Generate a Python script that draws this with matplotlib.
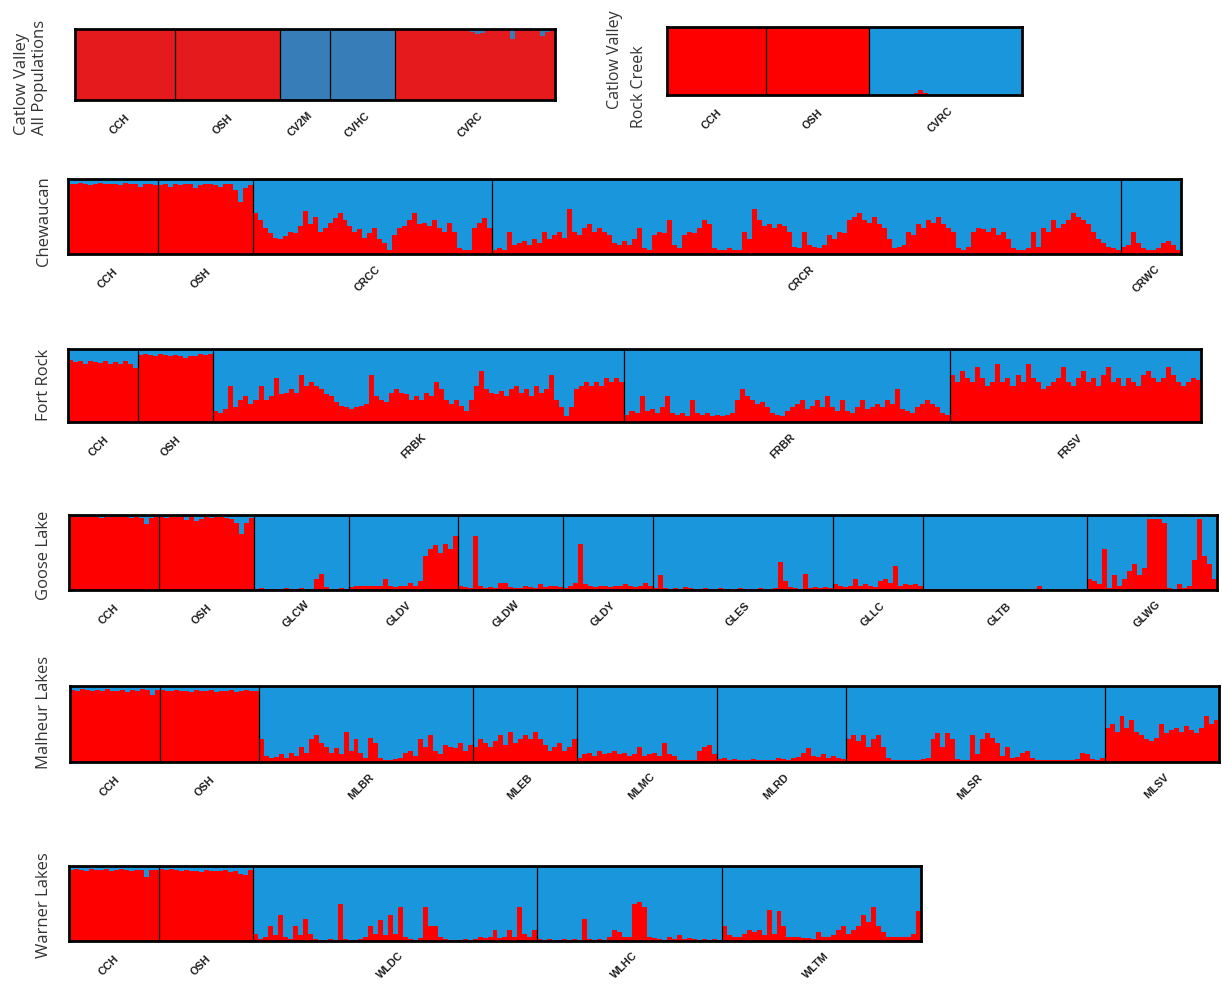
import numpy as np
import matplotlib.pyplot as plt

# --------------------------------------------------
# Data: red-cluster membership (q) per individual, grouped by population
# --------------------------------------------------
cv_all_pops = ["CCH", "OSH", "CV2M", "CVHC", "CVRC"]
cv_all_q = [
    [1.0, 1.0, 1.0, 1.0, 1.0, 1.0, 1.0, 1.0, 1.0, 1.0, 1.0, 1.0, 1.0, 1.0, 1.0, 1.0, 1.0, 1.0, 1.0, 1.0],
    [1.0, 1.0, 1.0, 1.0, 1.0, 1.0, 1.0, 1.0, 1.0, 1.0, 1.0, 1.0, 1.0, 1.0, 1.0, 1.0, 1.0, 1.0, 1.0, 1.0, 1.0],
    [0.0, 0.0, 0.0, 0.0, 0.0, 0.0, 0.0, 0.0, 0.0, 0.0],
    [0.0, 0.0, 0.0, 0.0, 0.0, 0.0, 0.0, 0.0, 0.0, 0.0, 0.0, 0.0, 0.0],
    [1, 1, 1, 1, 1, 1, 1, 0.97, 1, 1, 1, 1, 1, 1, 1, 0.96, 0.93, 0.95, 1, 1, 1, 1, 1, 0.86,
     1, 1, 1, 1, 1, 0.9, 0.96, 1],
]

cv_rc_pops = ["CCH", "OSH", "CVRC"]
cv_rc_q = [
    [1.0, 1.0, 1.0, 1.0, 1.0, 1.0, 1.0, 1.0, 1.0, 1.0, 1.0, 1.0, 1.0, 1.0, 1.0, 1.0, 1.0, 1.0, 1.0, 1.0],
    [1.0, 1.0, 1.0, 1.0, 1.0, 1.0, 1.0, 1.0, 1.0, 1.0, 1.0, 1.0, 1.0, 1.0, 1.0, 1.0, 1.0, 1.0, 1.0, 1.0, 1.0],
    [0, 0, 0, 0, 0, 0, 0, 0, 0, 0.03, 0.08, 0.03, 0, 0, 0, 0, 0, 0, 0, 0, 0, 0, 0, 0, 0, 0, 0, 0, 0, 0, 0],
]

chew_pops = ["CCH", "OSH", "CRCC", "CRCR", "CRWC"]
chew_q = [
    [0.94, 0.93, 0.95, 0.94, 0.92, 0.93, 0.95, 0.94, 0.93, 0.94, 0.92, 0.95, 0.93, 0.94, 0.9, 0.93, 0.94, 0.92],
    [0.92, 0.94, 0.9, 0.93, 0.92, 0.94, 0.93, 0.88, 0.92, 0.93, 0.94, 0.92, 0.9, 0.93, 0.94, 0.85, 0.7, 0.88, 0.92],
    [0.55, 0.45, 0.35, 0.28, 0.22, 0.2, 0.24, 0.3, 0.28, 0.38, 0.58, 0.4, 0.5, 0.3, 0.35, 0.42,
     0.48, 0.55, 0.45, 0.38, 0.3, 0.33, 0.22, 0.28, 0.35, 0.2, 0.15, 0.05, 0.25, 0.35, 0.38, 0.45,
     0.55, 0.4, 0.42, 0.38, 0.45, 0.35, 0.3, 0.42, 0.3, 0.08, 0.05, 0.05, 0.35, 0.42, 0.48, 0.35],
    [0.05, 0.08, 0.05, 0.3, 0.12, 0.15, 0.18, 0.12, 0.2, 0.15, 0.3, 0.2, 0.25, 0.3, 0.22, 0.6,
     0.3, 0.25, 0.35, 0.4, 0.3, 0.35, 0.3, 0.25, 0.15, 0.12, 0.18, 0.12, 0.2, 0.35, 0.08, 0.06,
     0.25, 0.3, 0.28, 0.45, 0.12, 0.08, 0.25, 0.3, 0.28, 0.35, 0.45, 0.4, 0.08, 0.06, 0.05, 0.08,
     0.06, 0.05, 0.3, 0.2, 0.6, 0.45, 0.38, 0.4, 0.35, 0.4, 0.38, 0.3, 0.1, 0.08, 0.3, 0.12,
     0.1, 0.08, 0.12, 0.25, 0.2, 0.3, 0.28, 0.45, 0.5, 0.55, 0.45, 0.42, 0.5, 0.4, 0.35, 0.2,
     0.08, 0.1, 0.12, 0.3, 0.25, 0.4, 0.35, 0.45, 0.42, 0.5, 0.4, 0.35, 0.3, 0.08, 0.05, 0.1,
     0.3, 0.35, 0.33, 0.3, 0.35, 0.25, 0.3, 0.2, 0.08, 0.06, 0.05, 0.08, 0.3, 0.1, 0.35, 0.3,
     0.45, 0.35, 0.4, 0.45, 0.55, 0.5, 0.45, 0.4, 0.3, 0.2, 0.15, 0.1, 0.08, 0.05],
    [0.1, 0.12, 0.3, 0.15, 0.08, 0.06, 0.05, 0.08, 0.15, 0.18, 0.12, 0.06],
]

fr_pops = ["CCH", "OSH", "FRBK", "FRBR", "FRSV"]
fr_q = [
    [0.85, 0.82, 0.84, 0.8, 0.83, 0.82, 0.81, 0.84, 0.8, 0.82, 0.79, 0.83, 0.8, 0.74],
    [0.92, 0.93, 0.92, 0.91, 0.93, 0.92, 0.9, 0.92, 0.91, 0.88, 0.9, 0.91, 0.93, 0.92, 0.93],
    [0.15, 0.12, 0.18, 0.5, 0.2, 0.3, 0.35, 0.25, 0.3, 0.5, 0.3, 0.35, 0.6, 0.38, 0.4, 0.45,
     0.4, 0.65, 0.5, 0.55, 0.5, 0.45, 0.38, 0.35, 0.28, 0.22, 0.2, 0.18, 0.2, 0.22, 0.25, 0.65,
     0.35, 0.3, 0.28, 0.4, 0.45, 0.4, 0.38, 0.3, 0.35, 0.3, 0.4, 0.35, 0.55, 0.45, 0.3, 0.25,
     0.3, 0.22, 0.15, 0.3, 0.5, 0.7, 0.45, 0.4, 0.38, 0.42, 0.35, 0.45, 0.5, 0.4, 0.45, 0.35,
     0.5, 0.4, 0.45, 0.65, 0.3, 0.2, 0.08, 0.2, 0.45, 0.5, 0.55, 0.5, 0.55, 0.5, 0.6, 0.55,
     0.6, 0.55],
    [0.1, 0.15, 0.12, 0.35, 0.15, 0.18, 0.12, 0.2, 0.35, 0.12, 0.1, 0.12, 0.08, 0.3, 0.12, 0.1,
     0.12, 0.08, 0.1, 0.08, 0.1, 0.12, 0.3, 0.45, 0.35, 0.3, 0.25, 0.28, 0.2, 0.12, 0.1, 0.08,
     0.15, 0.2, 0.25, 0.3, 0.18, 0.22, 0.3, 0.2, 0.35, 0.2, 0.15, 0.3, 0.15, 0.12, 0.2, 0.3,
     0.18, 0.2, 0.25, 0.2, 0.3, 0.25, 0.45, 0.18, 0.15, 0.12, 0.2, 0.25, 0.3, 0.25, 0.2, 0.12,
     0.1],
    [0.65, 0.55, 0.7, 0.6, 0.55, 0.75, 0.6, 0.5, 0.55, 0.8, 0.55, 0.6, 0.5, 0.65, 0.55, 0.8,
     0.6, 0.55, 0.45, 0.5, 0.55, 0.6, 0.75, 0.55, 0.5, 0.6, 0.7, 0.55, 0.6, 0.5, 0.65, 0.75,
     0.55, 0.6, 0.5, 0.6, 0.55, 0.5, 0.65, 0.7, 0.6, 0.55, 0.6, 0.75, 0.65, 0.55, 0.5, 0.55,
     0.6, 0.58],
]

gl_pops = ["CCH", "OSH", "GLCW", "GLDV", "GLDW", "GLDY", "GLES", "GLLC", "GLTB", "GLWG"]
gl_q = [
    [0.97, 0.98, 0.97, 0.97, 0.98, 0.97, 0.96, 0.97, 0.97, 0.98, 0.97, 0.97, 0.96, 0.97, 0.96, 0.88, 0.96, 0.97],
    [0.97, 0.96, 0.97, 0.98, 0.97, 0.93, 0.97, 0.92, 0.95, 0.97, 0.96, 0.97, 0.97, 0.96, 0.95, 0.9, 0.75, 0.9, 0.96],
    [0.02, 0.03, 0.02, 0.02, 0.01, 0.02, 0.03, 0.02, 0.02, 0.03, 0.02, 0.02, 0.15, 0.22, 0.04, 0.02, 0.02, 0.03, 0.02],
    [0.04, 0.05, 0.05, 0.06, 0.05, 0.05, 0.06, 0.15, 0.05, 0.04, 0.05, 0.06, 0.1, 0.06, 0.12, 0.45,
     0.55, 0.6, 0.5, 0.62, 0.55, 0.72],
    [0.05, 0.04, 0.03, 0.72, 0.05, 0.03, 0.04, 0.03, 0.1, 0.09, 0.04, 0.03, 0.03, 0.05, 0.04, 0.03,
     0.08, 0.04, 0.06, 0.05, 0.04],
    [0.03, 0.05, 0.1, 0.62, 0.08, 0.05, 0.04, 0.06, 0.05, 0.04, 0.06, 0.05, 0.08, 0.05, 0.04, 0.06, 0.1, 0.05],
    [0.03, 0.2, 0.03, 0.02, 0.03, 0.02, 0.04, 0.03, 0.02, 0.02, 0.03, 0.02, 0.02, 0.03, 0.02, 0.02,
     0.02, 0.03, 0.02, 0.02, 0.02, 0.03, 0.02, 0.02, 0.03, 0.38, 0.12, 0.04, 0.03, 0.02, 0.22, 0.03,
     0.04, 0.03, 0.04, 0.03],
    [0.08, 0.05, 0.04, 0.06, 0.15, 0.05, 0.08, 0.06, 0.04, 0.12, 0.15, 0.1, 0.32, 0.06, 0.08, 0.07, 0.08, 0.05],
    [0.02, 0.01, 0.01, 0.02, 0.01, 0.01, 0.02, 0.01, 0.01, 0.01, 0.02, 0.01, 0.01, 0.02, 0.01, 0.01,
     0.02, 0.01, 0.01, 0.01, 0.02, 0.01, 0.01, 0.05, 0.02, 0.01, 0.01, 0.02, 0.01, 0.01, 0.01, 0.02, 0.01],
    [0.15, 0.12, 0.08, 0.55, 0.03, 0.2, 0.05, 0.15, 0.25, 0.35, 0.2, 0.3, 0.95, 0.95, 0.95, 0.9,
     0.03, 0.02, 0.08, 0.03, 0.05, 0.4, 0.95, 0.45, 0.35, 0.15],
]

ml_pops = ["CCH", "OSH", "MLBR", "MLEB", "MLMC", "MLRD", "MLSR", "MLSV"]
ml_q = [
    [0.95, 0.94, 0.96, 0.95, 0.93, 0.95, 0.94, 0.96, 0.93, 0.94, 0.95, 0.92, 0.95, 0.94, 0.96, 0.95, 0.88, 0.95],
    [0.95, 0.93, 0.94, 0.95, 0.93, 0.94, 0.92, 0.95, 0.94, 0.93, 0.95, 0.92, 0.94, 0.93, 0.95, 0.92,
     0.94, 0.95, 0.93, 0.94],
    [0.3, 0.08, 0.05, 0.06, 0.1, 0.05, 0.12, 0.08, 0.2, 0.12, 0.3, 0.35, 0.25, 0.2, 0.12, 0.18,
     0.1, 0.4, 0.15, 0.3, 0.12, 0.05, 0.32, 0.25, 0.05, 0.03, 0.03, 0.04, 0.05, 0.12, 0.15, 0.08,
     0.3, 0.2, 0.35, 0.15, 0.1, 0.22, 0.2, 0.18, 0.25, 0.15, 0.22],
    [0.2, 0.3, 0.25, 0.2, 0.28, 0.35, 0.22, 0.4, 0.25, 0.3, 0.35, 0.3, 0.4, 0.3, 0.22, 0.15,
     0.2, 0.25, 0.15, 0.2, 0.3],
    [0.05, 0.1, 0.12, 0.08, 0.15, 0.1, 0.12, 0.15, 0.1, 0.12, 0.08, 0.1, 0.2, 0.08, 0.1, 0.12,
     0.08, 0.25, 0.1, 0.08, 0.03, 0.02, 0.03, 0.03, 0.15, 0.2, 0.22, 0.1],
    [0.04, 0.05, 0.03, 0.04, 0.03, 0.02, 0.03, 0.04, 0.03, 0.02, 0.03, 0.02, 0.05, 0.04, 0.03, 0.05,
     0.06, 0.12, 0.18, 0.08, 0.06, 0.1, 0.05, 0.08, 0.05, 0.04],
    [0.3, 0.35, 0.28, 0.35, 0.2, 0.3, 0.35, 0.2, 0.05, 0.03, 0.02, 0.03, 0.02, 0.03, 0.03, 0.04,
     0.05, 0.3, 0.38, 0.2, 0.38, 0.3, 0.04, 0.03, 0.03, 0.35, 0.1, 0.3, 0.38, 0.32, 0.25, 0.08,
     0.2, 0.05, 0.06, 0.12, 0.15, 0.05, 0.03, 0.02, 0.02, 0.03, 0.02, 0.02, 0.03, 0.02, 0.04, 0.12,
     0.1, 0.04, 0.03, 0.05],
    [0.45, 0.5, 0.4, 0.6, 0.45, 0.55, 0.4, 0.35, 0.3, 0.28, 0.32, 0.5, 0.38, 0.42, 0.45, 0.4,
     0.48, 0.42, 0.38, 0.45, 0.6, 0.5, 0.55],
]

wl_pops = ["CCH", "OSH", "WLDC", "WLHC", "WLTM"]
wl_q = [
    [0.95, 0.96, 0.95, 0.94, 0.96, 0.95, 0.95, 0.96, 0.94, 0.95, 0.96, 0.95, 0.94, 0.95, 0.95, 0.86, 0.95, 0.95],
    [0.96, 0.95, 0.96, 0.95, 0.94, 0.95, 0.93, 0.94, 0.92, 0.95, 0.94, 0.93, 0.94, 0.95, 0.92, 0.93,
     0.9, 0.88, 0.95],
    [0.1, 0.03, 0.05, 0.2, 0.08, 0.35, 0.05, 0.03, 0.2, 0.08, 0.3, 0.1, 0.03, 0.02, 0.02, 0.03,
     0.02, 0.5, 0.03, 0.02, 0.02, 0.03, 0.05, 0.2, 0.1, 0.28, 0.08, 0.35, 0.1, 0.45, 0.05, 0.03,
     0.02, 0.04, 0.45, 0.2, 0.2, 0.05, 0.03, 0.02, 0.02, 0.02, 0.03, 0.02, 0.03, 0.05, 0.04, 0.05,
     0.15, 0.04, 0.05, 0.15, 0.05, 0.45, 0.1, 0.05, 0.15],
    [0.03, 0.02, 0.03, 0.02, 0.02, 0.03, 0.02, 0.03, 0.02, 0.3, 0.03, 0.02, 0.03, 0.02, 0.05, 0.15,
     0.12, 0.05, 0.06, 0.5, 0.52, 0.45, 0.06, 0.04, 0.03, 0.02, 0.05, 0.03, 0.08, 0.03, 0.04, 0.03,
     0.02, 0.03, 0.02, 0.03, 0.02],
    [0.2, 0.08, 0.05, 0.06, 0.1, 0.15, 0.12, 0.15, 0.08, 0.42, 0.1, 0.4, 0.2, 0.06, 0.05, 0.05,
     0.04, 0.04, 0.03, 0.12, 0.05, 0.06, 0.08, 0.15, 0.2, 0.1, 0.15, 0.2, 0.35, 0.25, 0.45, 0.2,
     0.12, 0.06, 0.05, 0.05, 0.06, 0.05, 0.1, 0.4],
]

# --------------------------------------------------
# Figure setup (pixel layout of the original composite)
# --------------------------------------------------
W, H = 1222, 987
fig = plt.figure(figsize=(W / 100, H / 100), dpi=100)

RED, BLUE = '#ff0000', '#1a96dc'
RED_DARK, BLUE_DARK = '#e41a1c', '#377eb8'
TXT = '#333333'


def add_panel(x0, x1, y0, y1):
    return fig.add_axes([x0 / W, 1 - y1 / H, (x1 - x0) / W, (y1 - y0) / H])


def draw_structure(ax, pops, q, red=RED, blue=BLUE):
    vals = np.concatenate([np.asarray(v, dtype=float) for v in q])
    edges = np.arange(len(vals) + 1)
    ax.stairs(vals, edges, baseline=0, fill=True, color=red, lw=0)
    ax.stairs(np.ones_like(vals), edges, baseline=vals, fill=True, color=blue, lw=0)

    sizes = [len(v) for v in q]
    bounds = np.cumsum(sizes)
    for b in bounds[:-1]:
        ax.axvline(b, color='black', lw=0.9)
    starts = bounds - np.array(sizes)
    for name, s, n in zip(pops, starts, sizes):
        ax.annotate(name, (s + n / 2, 0), xycoords=('data', 'axes fraction'),
                    xytext=(-3.5, -17), textcoords='offset points',
                    rotation=45, ha='center', va='center',
                    fontsize=7.8, fontweight='bold', family='Liberation Sans',
                    color='#1e1e1e')

    ax.set_xlim(0, len(vals))
    ax.set_ylim(0, 1)
    ax.set_xticks([])
    ax.set_yticks([])
    for sp in ax.spines.values():
        sp.set_linewidth(2.0)
        sp.set_color('black')


def side_label(x, y, text, va='center', size=12):
    fig.text(x / W, 1 - y / H, text, rotation=90, ha='center', va=va,
             fontsize=size, family='Open Sans', color=TXT)


# Catlow Valley - all populations
ax1 = add_panel(75, 555, 30, 101)
draw_structure(ax1, cv_all_pops, cv_all_q, RED_DARK, BLUE_DARK)
fig.text(31 / W, 1 - 135 / H, "Catlow Valley\nAll Populations", rotation=90,
         ha='center', va='bottom', multialignment='left', fontsize=12,
         family='Open Sans', color=TXT, linespacing=1.1)

# Catlow Valley - Rock Creek
ax2 = add_panel(667, 1022, 28, 96)
draw_structure(ax2, cv_rc_pops, cv_rc_q)
side_label(615, 10, "Catlow Valley", va='top', size=11.5)
side_label(639, 128, "Rock Creek", va='bottom', size=11.5)

ax3 = add_panel(68, 1181, 180, 255)
draw_structure(ax3, chew_pops, chew_q)
side_label(44, 221, "Chewaucan")

ax4 = add_panel(68, 1201, 350, 423)
draw_structure(ax4, fr_pops, fr_q)
side_label(44, 385, "Fort Rock")

ax5 = add_panel(69, 1217, 516, 591)
draw_structure(ax5, gl_pops, gl_q)
side_label(44, 555, "Goose Lake")

ax6 = add_panel(70, 1219, 687, 763)
draw_structure(ax6, ml_pops, ml_q)
side_label(44, 712, "Malheur Lakes")

ax7 = add_panel(69, 921, 867, 942)
draw_structure(ax7, wl_pops, wl_q)
side_label(44, 905, "Warner Lakes")

fig.savefig("out.png", dpi=100, facecolor='white')
